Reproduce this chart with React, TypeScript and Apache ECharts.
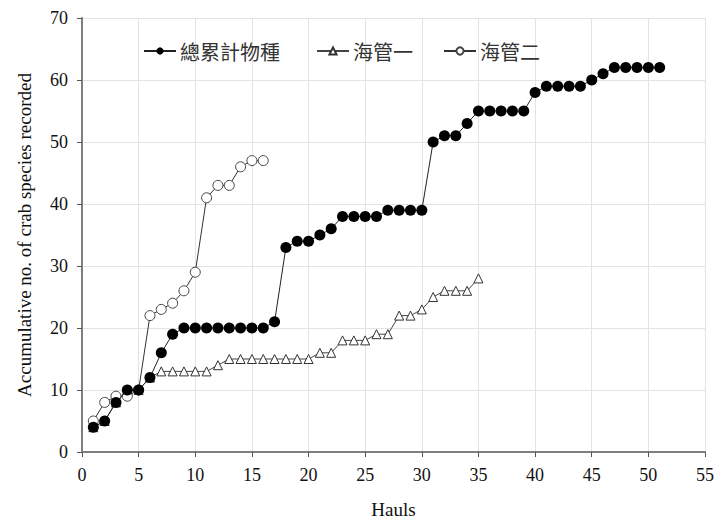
import React, { useEffect, useRef } from "react";
import * as echarts from "echarts";

const xTicks = [0, 5, 10, 15, 20, 25, 30, 35, 40, 45, 50, 55];
const seriesNames = ["總累計物種", "海管一", "海管二"];
const totalValues = [4, 5, 8, 10, 10, 12, 16, 19, 20, 20, 20, 20, 20, 20, 20, 20, 21, 33, 34, 34, 35, 36, 38, 38, 38, 38, 39, 39, 39, 39, 50, 51, 51, 53, 55, 55, 55, 55, 55, 58, 59, 59, 59, 59, 60, 61, 62, 62, 62, 62, 62];
const pipe1Values = [4, 5, 8, 10, 10, 12, 13, 13, 13, 13, 13, 14, 15, 15, 15, 15, 15, 15, 15, 15, 16, 16, 18, 18, 18, 19, 19, 22, 22, 23, 25, 26, 26, 26, 28];
const pipe2Values = [5, 8, 9, 9, 10, 22, 23, 24, 26, 29, 41, 43, 43, 46, 47, 47];

const toPairs = (vals: number[]) => vals.map((v, i) => [i + 1, v]);

export default function App() {
  const ref = useRef<HTMLDivElement>(null);
  useEffect(() => {
    if (!ref.current) return;
    const chart = echarts.init(ref.current, undefined, { renderer: "svg" });
    const serif = "Liberation Serif, Times New Roman, serif";
    const cjk = "Noto Sans CJK TC, Noto Sans CJK SC, sans-serif";
    const legendBase = {
      top: 41,
      padding: 0,
      itemWidth: 32,
      itemHeight: 9,
      itemGap: 4,
      textStyle: { fontFamily: cjk, fontSize: 20, color: "#333", padding: [0, 0, 0, -1] },
    };
    chart.setOption({
      animation: false,
      backgroundColor: "#ffffff",
      grid: { left: 82, right: 10, top: 18, bottom: 69, containLabel: false },
      legend: [
        { ...legendBase, left: 143, data: [seriesNames[0]] },
        { ...legendBase, left: 316, data: [seriesNames[1]] },
        { ...legendBase, left: 443, data: [seriesNames[2]] },
      ],
      xAxis: {
        type: "value",
        min: 0,
        max: 55,
        interval: 5,
        name: "Hauls",
        nameLocation: "middle",
        nameGap: 48,
        nameTextStyle: { fontFamily: serif, fontSize: 19, color: "#111" },
        axisLine: { show: true, lineStyle: { color: "#7f7f7f", width: 2 } },
        axisTick: { show: true, length: 5, lineStyle: { color: "#555", width: 1 } },
        axisLabel: { fontFamily: serif, fontSize: 18, color: "#111", margin: 14 },
        splitLine: { show: true, lineStyle: { color: "#e3e3e3", width: 1 } },
      },
      yAxis: {
        type: "value",
        min: 0,
        max: 70,
        interval: 10,
        name: "Accumulative no. of crab species recorded",
        nameLocation: "middle",
        nameGap: 48,
        nameTextStyle: { fontFamily: serif, fontSize: 19, color: "#111" },
        axisLine: { show: true, lineStyle: { color: "#7f7f7f", width: 2 } },
        axisTick: { show: true, length: 5, lineStyle: { color: "#555", width: 1 } },
        axisLabel: { fontFamily: serif, fontSize: 18, color: "#111", margin: 14 },
        splitLine: { show: true, lineStyle: { color: "#e3e3e3", width: 1 } },
      },
      series: [
        {
          name: seriesNames[1],
          type: "line",
          data: toPairs(pipe1Values),
          symbol: "triangle",
          symbolSize: 9,
          itemStyle: { color: "#ffffff", borderColor: "#333", borderWidth: 1 },
          lineStyle: { color: "#444", width: 1 },
          z: 2,
        },
        {
          name: seriesNames[2],
          type: "line",
          data: toPairs(pipe2Values),
          symbol: "circle",
          symbolSize: 10,
          itemStyle: { color: "#ffffff", borderColor: "#444", borderWidth: 1 },
          lineStyle: { color: "#333", width: 1 },
          z: 3,
        },
        {
          name: seriesNames[0],
          type: "line",
          data: toPairs(totalValues),
          symbol: "circle",
          symbolSize: 11,
          itemStyle: { color: "#000000", borderColor: "#000", borderWidth: 0 },
          lineStyle: { color: "#222", width: 1 },
          z: 4,
        },
      ],
    });
    return () => chart.dispose();
  }, []);
  return (
    <div
      ref={ref}
      style={{ position: "absolute", left: 0, top: 0, width: 717, height: 524 }}
    />
  );
}
